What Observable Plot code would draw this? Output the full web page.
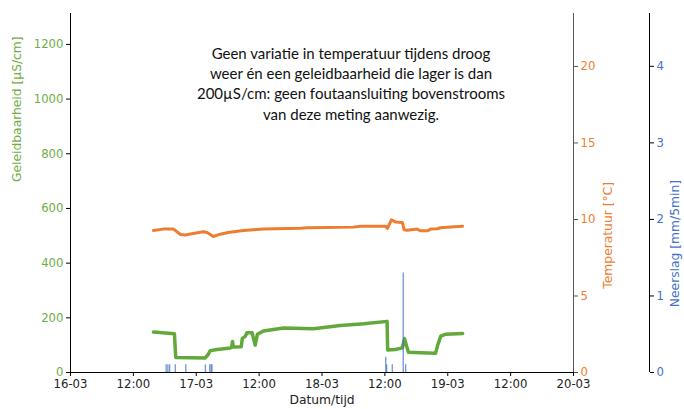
<!DOCTYPE html>
<html>
<head>
<meta charset="utf-8">
<script src="https://cdn.jsdelivr.net/npm/d3@7"></script>
<script src="https://cdn.jsdelivr.net/npm/@observablehq/plot@0.6"></script>
<style>
  html, body { margin: 0; padding: 0; background: #fff; }
  #chart { position: relative; width: 684px; height: 409px; overflow: hidden; }
  #chart svg { position: absolute; left: 0; top: 0; background: transparent; }
</style>
</head>
<body>
<div id="chart"></div>
<script>
// ---- data ----
const condTimes = ["03-16 15:50","03-16 17:00","03-16 19:50","03-16 20:05","03-17 01:40","03-17 02:15","03-17 02:40","03-17 04:00","03-17 06:30","03-17 06:45","03-17 06:55","03-17 07:05","03-17 08:35","03-17 08:48","03-17 09:20","03-17 09:40","03-17 10:40","03-17 11:15","03-17 11:40","03-17 12:50","03-17 16:40","03-17 22:20","03-18 03:30","03-18 08:00","03-18 12:25","03-18 12:32","03-18 14:00","03-18 15:20","03-18 15:45","03-18 16:10","03-18 16:30","03-18 18:50","03-18 21:40","03-18 22:05","03-18 22:40","03-18 23:40","03-19 02:50"];
const condValues = [148,146,142,55,53,65,80,84,90,92,113,93,94,125,132,145,145,100,140,152,163,160,172,178,187,82,84,90,124,95,74,72,70,100,133,140,143];

const tempTimes = ["03-16 15:50","03-16 17:40","03-16 19:35","03-16 20:10","03-16 21:00","03-16 21:55","03-16 23:25","03-17 01:20","03-17 02:05","03-17 03:15","03-17 04:35","03-17 06:05","03-17 09:00","03-17 10:55","03-17 12:50","03-17 19:55","03-17 21:10","03-18 06:00","03-18 07:20","03-18 12:10","03-18 12:28","03-18 13:15","03-18 14:05","03-18 15:20","03-18 15:40","03-18 16:15","03-18 18:10","03-18 18:50","03-18 20:05","03-18 20:45","03-18 22:00","03-18 22:40","03-19 01:10","03-19 02:50"];
const tempValues = [9.28,9.37,9.37,9.24,9.02,8.98,9.08,9.2,9.15,8.89,9.04,9.15,9.28,9.33,9.37,9.43,9.46,9.5,9.56,9.56,9.41,9.98,9.83,9.8,9.33,9.3,9.37,9.26,9.26,9.37,9.39,9.46,9.52,9.56];

const rainTimes = ["03-16 18:15","03-16 18:35","03-16 18:55","03-16 20:00","03-16 22:00","03-17 01:45","03-17 02:35","03-17 02:50","03-17 03:00","03-18 12:10","03-18 12:20","03-18 13:25","03-18 15:30","03-18 15:58"];
const rainValues = [0.1,0.1,0.1,0.1,0.1,0.1,0.1,0.1,0.1,0.2,0.1,0.1,1.3,0.1];

const condTicks = [0,200,400,600,800,1000,1200];
const tempTicks = [0,5,10,15,20];
const rainTicks = [0,1,2,3,4];

const titleText = "Geen variatie in temperatuur tijdens droog\nweer én een geleidbaarheid die lager is dan\n200µS/cm: geen foutaansluiting bovenstrooms\nvan deze meting aanwezig.";
const xLabel = "Datum/tijd";
const condLabel = "Geleidbaarheid [µS/cm]";
const tempLabel = "Temperatuur [°C]";
const rainLabel = "Neerslag [mm/5min]";

// ---- build ----
const year = "2021";
const parse = d3.utcParse("%Y-%m-%d %H:%M");
const toDate = s => parse(`${year}-${s}`);
const cond = condTimes.map((t, i) => ({date: toDate(t), value: condValues[i]}));
const temp = tempTimes.map((t, i) => ({date: toDate(t), value: tempValues[i]}));
const rain = rainTimes.map((t, i) => ({date: toDate(t), value: rainValues[i]}));

const xDomain = [toDate("03-16 00:00"), toDate("03-20 00:00")];
const GREEN = "#62a83a", GREEN_T = "#70ad47", ORANGE = "#ed7d31", BLUE = "#4472c4";

const common = {
  width: 684, height: 409,
  marginLeft: 70, marginRight: 111, marginTop: 13, marginBottom: 37,
  style: {fontFamily: "DejaVu Sans", fontSize: "11.7px", background: "transparent", overflow: "visible"}
};
const fmt = d => d.getUTCHours() === 0 ? d3.utcFormat("%d-%m")(d) : d3.utcFormat("%H:%M")(d);
const intFmt = d3.format("d");

const base = Plot.plot({
  ...common,
  x: {type: "utc", domain: xDomain, axis: null},
  y: {domain: [0, 1313], axis: null},
  marks: [
    Plot.ruleY([0], {stroke: "black"}),
    Plot.ruleX([xDomain[0]], {stroke: "black"}),
    Plot.axisX({ticks: d3.utcHour.every(12), tickFormat: fmt, tickSize: 4, tickPadding: 3, stroke: "black", fill: "#222", label: null}),
    Plot.axisY(condTicks, {anchor: "left", tickFormat: intFmt, tickSize: 4, tickPadding: 3, stroke: "black", fill: GREEN_T, label: null}),
    Plot.line(cond, {x: "date", y: "value", stroke: GREEN, strokeWidth: 3.5, strokeLinejoin: "round"}),
    Plot.text([condLabel], {frameAnchor: "left", text: d => d, rotate: -90, dx: -53, dy: -11, fill: GREEN_T, fontSize: 12.3}),
    Plot.text([xLabel], {frameAnchor: "bottom", text: d => d, dy: 31, fill: "#222", fontSize: 12.3}),
    Plot.text([titleText], {frameAnchor: "top", text: d => d, lineAnchor: "top", dx: 29, dy: 31, lineHeight: 1.35, fontFamily: "Lato", fontSize: 15, fill: "#111"})
  ]
});

const tempPlot = Plot.plot({
  ...common,
  x: {type: "utc", domain: xDomain, axis: null},
  y: {domain: [0, 23.46], axis: null},
  marks: [
    Plot.ruleX([xDomain[1]], {stroke: "#555"}),
    Plot.axisY(tempTicks, {anchor: "right", tickFormat: intFmt, tickSize: 4, tickPadding: 3, stroke: "#555", fill: ORANGE, label: null}),
    Plot.line(temp, {x: "date", y: "value", stroke: ORANGE, strokeWidth: 3, strokeLinejoin: "round"}),
    Plot.text([tempLabel], {frameAnchor: "right", text: d => d, rotate: -90, dx: 35, dy: -11, fill: ORANGE, fontSize: 12.3})
  ]
});

const rainPlot = Plot.plot({
  ...common,
  x: {type: "utc", domain: xDomain, axis: null},
  y: {domain: [0, 4.69], axis: null},
  marks: [
    Plot.ruleX(rain, {x: "date", y1: 0, y2: "value", stroke: BLUE, strokeOpacity: 0.75, strokeWidth: 1.3})
  ]
});

const rainAxis = Plot.plot({
  ...common,
  marginRight: 35,
  x: {domain: [0, 1], axis: null},
  y: {domain: [0, 4.69], axis: null},
  marks: [
    Plot.ruleX([1], {stroke: "black"}),
    Plot.axisY(rainTicks, {anchor: "right", tickFormat: intFmt, tickSize: 4, tickPadding: 3, stroke: "black", fill: BLUE, label: null}),
    Plot.text([rainLabel], {frameAnchor: "right", text: d => d, rotate: -90, dx: 26, dy: -13, fill: BLUE, fontSize: 12.3})
  ]
});

const el = document.getElementById("chart");
el.append(base, tempPlot, rainPlot, rainAxis);
</script>
</body>
</html>
